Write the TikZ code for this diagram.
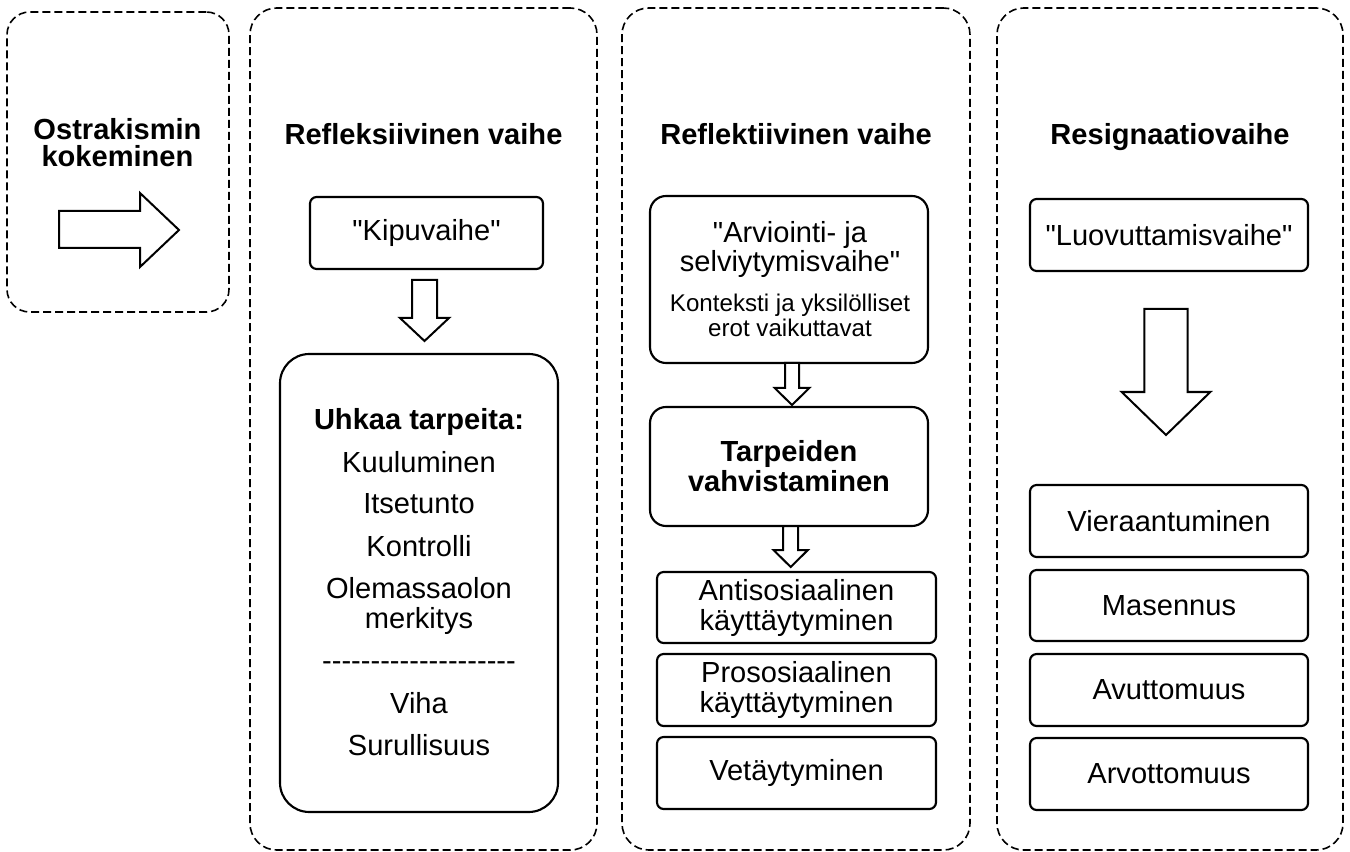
\documentclass[tikz,border=0pt]{standalone}
\usepackage{fontspec}
\setmainfont{Liberation Sans}
\newcommand\fbig{\fontsize{21.8}{22.5}\selectfont}
\newcommand\fsmall{\fontsize{18.1}{18.75}\selectfont}
\newcommand\qq{\textquotedbl}
\newcommand\dnarrow[6]{%
  \draw[blockarrow] ({#1-#2},#3) -- ({#1+#2},#3) -- ({#1+#2},#4) -- ({#1+#5},#4)
    -- (#1,#6) -- ({#1-#5},#4) -- ({#1-#2},#4) -- cycle;}
\begin{document}
\begin{tikzpicture}[x=0.75pt,y=-0.75pt,
  phase/.style={draw, line width=1.2pt, dash pattern=on 6pt off 3pt, rounded corners=20pt, inner sep=0pt},
  box/.style={draw, line width=1.6pt, rounded corners=5pt, align=center, inner sep=0pt, font=\fbig},
  txt/.style={inner sep=0pt, anchor=base, font=\fbig},
  stxt/.style={inner sep=0pt, anchor=base, font=\fsmall},
  ttl/.style={inner sep=0pt, anchor=base, font=\fbig\bfseries},
  blockarrow/.style={draw, line width=1.5pt, fill=white, line join=miter}
]
\useasboundingbox (0,0) rectangle (1350,852);

% phase frames
\node[phase, rounded corners=17pt, minimum width=166.5pt, minimum height=225pt] (p1) at (118,162) {};
\node[phase, minimum width=260.25pt, minimum height=631.5pt] (p2) at (423.5,429) {};
\node[phase, minimum width=261pt, minimum height=631.5pt] (p3) at (796,429) {};
\node[phase, minimum width=259.5pt, minimum height=631.5pt] (p4) at (1170,429) {};

% column 1
\node[ttl] (o1) at (117.5,140) {Ostrakismin};
\node[ttl] (o2) at (117.5,167) {kokeminen};
\draw[blockarrow] (59,211) -- (140,211) -- (140,193) -- (179,230) -- (140,267) -- (140,248) -- (59,248) -- cycle;

% column 2
\node[ttl] (t2) at (423.5,145) {Refleksiivinen vaihe};
\node[box, minimum width=174.75pt, minimum height=54pt] (kipu) at (426.5,233) {\qq Kipuvaihe\qq};
\dnarrow{424.5}{12.5}{280}{318}{24.5}{341}
\node[box, rounded corners=22pt, minimum width=208.5pt, minimum height=343.5pt] (uhka) at (419,583) {};
\node[ttl] (u0) at (419,430) {Uhkaa tarpeita:};
\node[txt] (u1) at (419,472) {Kuuluminen};
\node[txt] (u2) at (419,513) {Itsetunto};
\node[txt] (u3) at (419,556) {Kontrolli};
\node[txt] (u4) at (419,598) {Olemassaolon};
\node[txt] (u5) at (419,628) {merkitys};
\node[txt] (u6) at (419,670) {-{}-{}-{}-{}-{}-{}-{}-{}-{}-{}-{}-{}-{}-{}-{}-{}-{}-{}-{}-};
\node[txt] (u7) at (419,713) {Viha};
\node[txt] (u8) at (419,755) {Surullisuus};

% column 3
\node[ttl] (t3) at (796,145) {Reflektiivinen vaihe};
\node[box, rounded corners=12pt, minimum width=208.5pt, minimum height=125.25pt] (arv) at (789,279.5) {};
\node[txt] (a1) at (790,243) {\qq Arviointi- ja};
\node[txt] (a2) at (790,272) {selviytymisvaihe\qq};
\node[stxt] (a3) at (790,312) {Konteksti ja yksilölliset};
\node[stxt] (a4) at (790,337) {erot vaikuttavat};
\dnarrow{792}{7}{363}{388}{17.3}{405}
\node[box, rounded corners=12pt, minimum width=208.5pt, minimum height=89.25pt, font=\fbig\bfseries] (tarp) at (789,466.5) {Tarpeiden\\vahvistaminen};
\dnarrow{790.7}{7.5}{526}{550}{17.2}{567}
\node[box, minimum width=209.25pt, minimum height=53.25pt] (anti) at (796.5,607.5) {Antisosiaalinen\\käyttäytyminen};
\node[box, minimum width=209.25pt, minimum height=54pt] (pros) at (796.5,690) {Prososiaalinen\\käyttäytyminen};
\node[box, minimum width=209.25pt, minimum height=54pt] (veta) at (796.5,773) {Vetäytyminen};

% column 4
\node[ttl] (t4) at (1170,145) {Resignaatiovaihe};
\node[box, minimum width=208.5pt, minimum height=54pt] (luov) at (1169,235) {\qq Luovuttamisvaihe\qq};
\dnarrow{1166}{21.7}{309}{392}{44.3}{435}
\node[box, minimum width=208.5pt, minimum height=54pt] (vier) at (1169,521) {Vieraantuminen};
\node[box, minimum width=208.5pt, minimum height=53.25pt] (mase) at (1169,605.5) {Masennus};
\node[box, minimum width=208.5pt, minimum height=54pt] (avut) at (1169,690) {Avuttomuus};
\node[box, minimum width=208.5pt, minimum height=54pt] (arvo) at (1169,774) {Arvottomuus};
\end{tikzpicture}
\end{document}
